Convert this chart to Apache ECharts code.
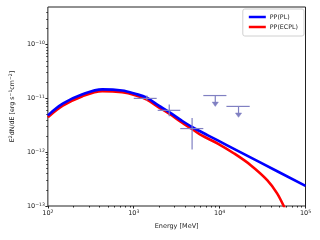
<!DOCTYPE html>
<html><head><meta charset="utf-8">
<script src="https://cdn.jsdelivr.net/npm/echarts@6/dist/echarts.min.js"></script>
<style>html,body{margin:0;padding:0;background:#fff}#c{width:320px;height:240px}</style>
</head><body><div id="c"></div>
<script>
// ---- data ----
const plEnergy = [100, 149, 253, 430, 731, 1040, 1420, 1935, 2590, 3590, 4770, 7300, 12400, 30000, 100000];
const plFlux   = [4.84e-12, 7.98e-12, 1.19e-11, 1.47e-11, 1.40e-11, 1.22e-11, 1.03e-11, 7.4e-12, 5.57e-12, 3.9e-12, 2.94e-12, 2.06e-12, 1.33e-12, 6.4e-13, 2.36e-13];
const ecplEnergy = [100, 149, 253, 430, 731, 1040, 1420, 1935, 2590, 3590, 4770, 6110, 9510, 14760, 23000, 35800, 46700, 56600, 70000];
const ecplFlux   = [4.45e-12, 7.3e-12, 1.1e-11, 1.36e-11, 1.3e-11, 1.15e-11, 9.5e-12, 6.9e-12, 5.2e-12, 3.6e-12, 2.7e-12, 2.07e-12, 1.45e-12, 9.46e-13, 5.74e-13, 3.03e-13, 1.72e-13, 9.5e-14, 4.5e-14];

const ptEnergy = [1420, 2590, 4780];
const ptEnergyLo = [1000, 1900, 3480];
const ptEnergyHi = [1850, 3480, 6460];
const ptFlux = [1.0e-11, 6.0e-12, 2.75e-12];
const ptFluxLo = [9.1e-12, 4.64e-12, 1.12e-12];
const ptFluxHi = [1.13e-11, 7.7e-12, 4.3e-12];

const ulEnergy = [8900, 16600];
const ulEnergyLo = [6460, 12000];
const ulEnergyHi = [12000, 22400];
const ulFlux = [1.13e-11, 7.1e-12];
const ulTip = [7.1e-12, 4.45e-12];

const seriesNames = ['PP(PL)', 'PP(ECPL)'];
const xMajor = [1e2, 1e3, 1e4, 1e5];
const yMajor = [1e-13, 1e-12, 1e-11, 1e-10];
const xRange = [100, 1e5];
const yRange = [1e-13, 5e-10];

// ---- build ----
function minorTicks(lo, hi) {
  const out = [];
  for (let e = Math.floor(Math.log10(lo)); e <= Math.ceil(Math.log10(hi)); e++) {
    for (let m = 2; m <= 9; m++) {
      const v = m * Math.pow(10, e);
      if (v > lo * 1.0001 && v < hi * 0.9999) out.push(v);
    }
  }
  return out;
}
const pow10 = v => '10{s|' + String(Math.round(Math.log10(v))).replace('-', '\u2212') + '}';
const FONT = 'DejaVu Sans';
const richLbl = {
  s: { fontSize: 4.6, fontFamily: FONT, color: '#222', verticalAlign: 'top', lineHeight: 8, padding: [0, 0, 3, 0] }
};
const errColor = '#8080c2';

const chart = echarts.init(document.getElementById('c'), null, { renderer: 'canvas' });

const pts = ptEnergy.map((e, i) => [e, ptFlux[i], ptEnergyLo[i], ptEnergyHi[i], ptFluxLo[i], ptFluxHi[i]]);
const uls = ulEnergy.map((e, i) => [e, ulFlux[i], ulEnergyLo[i], ulEnergyHi[i], ulTip[i]]);

const axisCommon = {
  type: 'log', logBase: 10,
  axisLine: { show: false },
  splitLine: { show: false },
};

chart.setOption({
  animation: false,
  grid: { left: 45, right: 14.5, top: 7, bottom: 34, show: true, borderColor: '#222', borderWidth: 1 },
  legend: {
    data: seriesNames,
    orient: 'vertical', right: 16, top: 9,
    icon: 'rect', itemWidth: 17, itemHeight: 2.5, itemGap: 4,
    borderColor: '#d0d0d0', borderWidth: 1, borderRadius: 2,
    padding: [5, 6, 6, 6],
    textStyle: { fontSize: 6.3, fontFamily: FONT, color: '#222', padding: [0, 0, 0, -1] }
  },
  xAxis: [
    Object.assign({}, axisCommon, {
      min: xRange[0], max: xRange[1],
      name: 'Energy [MeV]', nameLocation: 'middle', nameGap: 17,
      nameTextStyle: { fontSize: 6.5, fontFamily: FONT, color: '#222' },
      axisTick: { show: true, length: 2.5, lineStyle: { color: '#222' }, customValues: xMajor },
      axisLabel: { fontSize: 6.5, fontFamily: FONT, color: '#222', margin: 3, customValues: xMajor, formatter: pow10, rich: richLbl }
    }),
    Object.assign({}, axisCommon, {
      min: xRange[0], max: xRange[1], position: 'bottom',
      axisTick: { show: true, length: 1.5, lineStyle: { color: '#222' }, customValues: minorTicks(xRange[0], xRange[1]) },
      axisLabel: { show: false }
    })
  ],
  yAxis: [
    Object.assign({}, axisCommon, {
      min: yRange[0], max: yRange[1],
      name: 'E{s|2}dN/dE [erg s{s|\u22121}cm{s|\u22122}]', nameLocation: 'middle', nameGap: 31, nameRotate: 90,
      nameTextStyle: { fontSize: 6.3, fontFamily: FONT, color: '#222', rich: richLbl },
      axisTick: { show: true, length: 2.5, lineStyle: { color: '#222' }, customValues: yMajor },
      axisLabel: { fontSize: 6.5, fontFamily: FONT, color: '#222', margin: 3, customValues: yMajor, formatter: pow10, rich: richLbl }
    }),
    Object.assign({}, axisCommon, {
      min: yRange[0], max: yRange[1], position: 'left',
      axisTick: { show: true, length: 1.5, lineStyle: { color: '#222' }, customValues: minorTicks(yRange[0], yRange[1]) },
      axisLabel: { show: false }
    })
  ],
  series: [
    {
      name: seriesNames[0], type: 'line', xAxisIndex: 0, yAxisIndex: 0,
      data: plEnergy.map((e, i) => [e, plFlux[i]]),
      showSymbol: false, smooth: 0.35, color: '#0000ff',
      lineStyle: { width: 2.6, color: '#0000ff' }, clip: true, z: 3
    },
    {
      name: seriesNames[1], type: 'line', xAxisIndex: 0, yAxisIndex: 0,
      data: ecplEnergy.map((e, i) => [e, ecplFlux[i]]),
      showSymbol: false, smooth: 0.35, color: '#ff0000',
      lineStyle: { width: 2.6, color: '#ff0000' }, clip: true, z: 2
    },
    {
      type: 'custom', xAxisIndex: 0, yAxisIndex: 0, z: 4,
      data: pts,
      renderItem: function (params, api) {
        const c = api.coord([api.value(0), api.value(1)]);
        const xl = api.coord([api.value(2), api.value(1)]);
        const xh = api.coord([api.value(3), api.value(1)]);
        const yl = api.coord([api.value(0), api.value(4)]);
        const yh = api.coord([api.value(0), api.value(5)]);
        const st = { stroke: errColor, lineWidth: 1.2, fill: null };
        return { type: 'group', children: [
          { type: 'line', shape: { x1: xl[0], y1: c[1], x2: xh[0], y2: c[1] }, style: st },
          { type: 'line', shape: { x1: c[0], y1: yl[1], x2: c[0], y2: yh[1] }, style: st }
        ]};
      }
    },
    {
      type: 'custom', xAxisIndex: 0, yAxisIndex: 0, z: 4,
      data: uls,
      renderItem: function (params, api) {
        const c = api.coord([api.value(0), api.value(1)]);
        const xl = api.coord([api.value(2), api.value(1)]);
        const xh = api.coord([api.value(3), api.value(1)]);
        const t = api.coord([api.value(0), api.value(4)]);
        const st = { stroke: errColor, lineWidth: 1.2, fill: null };
        const h = 4.3, w = 3.1;
        return { type: 'group', children: [
          { type: 'line', shape: { x1: xl[0], y1: c[1], x2: xh[0], y2: c[1] }, style: st },
          { type: 'line', shape: { x1: c[0], y1: c[1], x2: c[0], y2: t[1] - h }, style: st },
          { type: 'polygon', shape: { points: [[c[0] - w, t[1] - h], [c[0] + w, t[1] - h], [c[0], t[1]]] }, style: { fill: errColor, stroke: errColor, lineWidth: 0.5 } }
        ]};
      }
    }
  ]
});
</script>
</body></html>
